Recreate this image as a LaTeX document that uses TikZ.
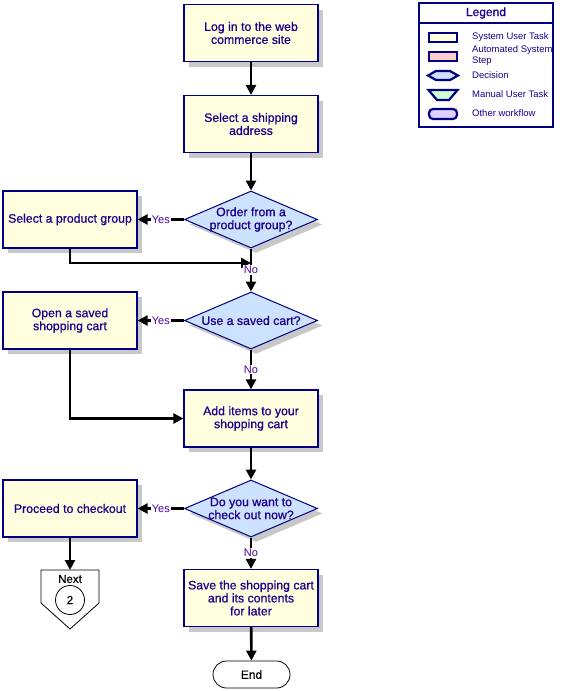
\documentclass[tikz,border=0pt]{standalone}
\usepackage{fontspec}
\setmainfont{Liberation Sans}
\newfontfamily\heavyfont[FakeBold=0.8]{Liberation Sans}
\usetikzlibrary{arrows.meta,shapes.geometric,shadows}

\definecolor{navyline}{RGB}{0,0,128}
\definecolor{txtcol}{RGB}{30,0,140}
\definecolor{taskfill}{RGB}{255,255,224}
\definecolor{decfill}{RGB}{204,226,255}
\definecolor{autofill}{RGB}{255,204,204}
\definecolor{manfill}{RGB}{210,255,210}
\definecolor{otherfill}{RGB}{224,208,255}
\definecolor{shadowgray}{RGB}{200,200,200}

\begin{document}
\begin{tikzpicture}[x=1pt,y=-1pt,
  task/.style={rectangle,draw=navyline,line width=1.2pt,fill=taskfill,
    minimum width=134pt,minimum height=57pt,align=center,text=txtcol,
    font=\heavyfont\fontsize{12.3}{13}\selectfont,
    general shadow={fill=shadowgray,shadow xshift=5pt,shadow yshift=-5pt}},
  decision/.style={diamond,aspect=2.33,inner xsep=-5pt,inner ysep=0pt,
    draw=navyline,line width=1pt,fill=decfill,minimum width=133pt,
    minimum height=57pt,align=center,text=txtcol,
    font=\heavyfont\fontsize{12.3}{13}\selectfont,
    general shadow={fill=shadowgray,shadow xshift=5pt,shadow yshift=-5pt}},
  flow/.style={line width=2.6pt,-{Triangle[length=10pt,width=10pt]}},
  answer/.style={fill=white,inner sep=1pt,text=txtcol!80!magenta,font=\fontsize{11}{11}\selectfont},
  swatch/.style={rectangle,draw=navyline,line width=2.4pt,minimum width=28pt,
    minimum height=9pt,inner sep=0pt},
  legtext/.style={anchor=west,inner sep=0pt,align=left,text=txtcol,
    font=\fontsize{9.5}{11}\selectfont}]
  \useasboundingbox (0,0) rectangle (565,691);

  \node[task] (login) at (251,33) {Log in to the web\\commerce site};
  \node[task] (ship) at (251,124) {Select a shipping\\address};
  \node[decision] (group) at (251,219.5) {Order from a\\product group?};
  \node[task] (pickgroup) at (70,219.5) {Select a product group};
  \coordinate (join) at (251,263);
  \node[decision] (saved) at (251,320.5) {Use a saved cart?};
  \node[task] (opencart) at (70,320.5) {Open a saved\\shopping cart};
  \node[task] (additems) at (251,418.5) {Add items to your\\shopping cart};
  \node[decision] (checkout) at (251,508.5) {Do you want to\\check out now?};
  \node[task] (proceed) at (70,508.5) {Proceed to checkout};
  \node[task] (savecart) at (251,598) {Save the shopping cart\\and its contents\\for later};
  \node[rectangle,rounded corners=13.5pt,draw,line width=0.8pt,fill=white,
    minimum width=77pt,minimum height=27pt,font=\heavyfont\fontsize{12}{12}\selectfont]
    (end) at (251.5,674.5) {End};

  \draw[line width=0.8pt,fill=white] (41,570) -- (99,570) -- (99,603) -- (70,629) -- (41,603) -- cycle;
  \coordinate (nexttop) at (70,570);
  \node[font=\heavyfont\fontsize{11.5}{11.5}\selectfont,inner sep=0pt] (next) at (70,579) {Next};
  \node[circle,draw,line width=0.8pt,minimum size=29pt,inner sep=0pt,
    font=\heavyfont\fontsize{11.5}{11.5}\selectfont] (page) at (70,600) {2};

  \draw[flow] (login) -- (ship);
  \draw[flow] (ship) -- (group);
  \draw[flow] (group) -- (pickgroup) node[answer,midway] {Yes};
  \draw[flow] (pickgroup.south) |- (join);
  \draw[flow] (group) -- (saved) node[answer,midway] {No};
  \draw[flow] (saved) -- (opencart) node[answer,midway] {Yes};
  \draw[flow] (opencart.south) |- (additems.west);
  \draw[flow] (saved) -- (additems) node[answer,midway] {No};
  \draw[flow] (additems) -- (checkout);
  \draw[flow] (checkout) -- (proceed) node[answer,midway] {Yes};
  \draw[flow] (checkout) -- (savecart) node[answer,midway] {No};
  \draw[flow] (proceed) -- (nexttop);
  \draw[flow] (savecart) -- (end);

  \draw[navyline,line width=2.6pt,fill=white] (419,3) rectangle (553,127);
  \draw[navyline,line width=2.6pt] (419,23) -- (553,23);
  \node[text=txtcol,font=\heavyfont\fontsize{12}{12}\selectfont] (legend) at (486,13) {Legend};
  \node[swatch,fill=taskfill] (sysbox) at (443,37.5) {};
  \node[swatch,fill=autofill] (autobox) at (443,56.5) {};
  \draw[navyline,line width=2.2pt,fill=decfill] (428,75.5) -- (436,71) -- (450,71) -- (458,75.5) -- (450,80) -- (436,80) -- cycle;
  \draw[navyline,line width=2.2pt,fill=manfill] (428.5,90) -- (457.5,90) -- (449,100) -- (437,100) -- cycle;
  \draw[navyline,line width=2.2pt,fill=otherfill,rounded corners=4pt] (429,109) rectangle (457,119);
  \node[legtext] (systext) at (472,37) {System User Task};
  \node[legtext] (autotext) at (472,56) {Automated System\\Step};
  \node[legtext] (dectext) at (472,75.5) {Decision};
  \node[legtext] (mantext) at (472,94.5) {Manual User Task};
  \node[legtext] (othertext) at (472,113.5) {Other workflow};
\end{tikzpicture}
\end{document}
